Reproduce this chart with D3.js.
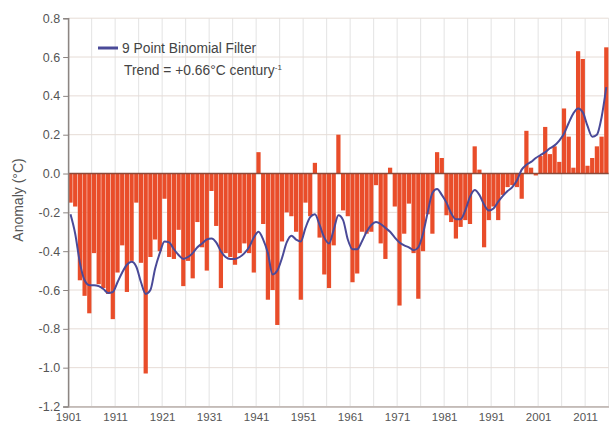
<!DOCTYPE html>
<html>
<head>
<meta charset="utf-8">
<script src="https://cdn.jsdelivr.net/npm/d3@7"></script>
<style>
  html, body { margin: 0; padding: 0; background: #fff; }
  svg { display: block; font-family: "Liberation Sans", Arial, sans-serif; }
</style>
</head>
<body>
<svg id="chart" width="609" height="423"></svg>
<script>
// Annual mean temperature anomaly, 1901–2015 (°C)
const years = d3.range(1901, 2016);

const anomaly = [
  -0.15, -0.17, -0.55, -0.63, -0.72, -0.41, -0.57, -0.59, -0.62, -0.75,
  -0.51, -0.37, -0.61, -0.45, -0.15, -0.46, -1.03, -0.43, -0.34, -0.40,
  -0.13, -0.43, -0.44, -0.29, -0.58, -0.45, -0.54, -0.25, -0.38, -0.50,
  -0.09, -0.27, -0.59, -0.41, -0.43, -0.47, -0.41, -0.36, -0.41, -0.51,
   0.11, -0.26, -0.65, -0.60, -0.78, -0.35, -0.20, -0.22, -0.30, -0.65,
  -0.15, -0.22, 0.055, -0.33, -0.52, -0.59, -0.37, 0.20, -0.19, -0.22,
  -0.56, -0.515, -0.30, -0.31, -0.30, -0.06, -0.36, -0.44, 0.03, -0.17,
  -0.68, -0.31, -0.155, -0.41, -0.645, -0.40, -0.21, -0.31, 0.11, 0.08,
  -0.215, -0.25, -0.335, -0.275, -0.24, -0.26, 0.14, 0.02, -0.38, -0.24,
  -0.17, -0.24, -0.11, -0.07, -0.06, -0.07, -0.13, 0.22, 0.03, -0.01,
   0.09, 0.24, 0.10, 0.14, 0.06, 0.335, 0.19, 0.03, 0.63, 0.59,
   0.04, 0.08, 0.14, 0.19, 0.65
];

// 9-point binomial filtered series
const filtered = [
  -0.21, -0.31, -0.46, -0.55, -0.575, -0.575, -0.58, -0.595, -0.615, -0.61,
  -0.56, -0.51, -0.47, -0.455, -0.48, -0.56, -0.62, -0.60, -0.49, -0.41,
  -0.35, -0.355, -0.39, -0.42, -0.44, -0.43, -0.41, -0.38, -0.36, -0.34,
  -0.335, -0.355, -0.40, -0.43, -0.44, -0.44, -0.43, -0.41, -0.38, -0.33,
  -0.30, -0.34, -0.41, -0.52, -0.50, -0.435, -0.355, -0.32, -0.34, -0.35,
  -0.28, -0.225, -0.21, -0.265, -0.33, -0.36, -0.29, -0.215, -0.24, -0.34,
  -0.39, -0.39, -0.35, -0.30, -0.265, -0.25, -0.26, -0.28, -0.30, -0.33,
  -0.355, -0.37, -0.38, -0.395, -0.38, -0.31, -0.20, -0.10, -0.08, -0.11,
  -0.15, -0.205, -0.235, -0.235, -0.19, -0.12, -0.085, -0.11, -0.16, -0.19,
  -0.18, -0.145, -0.115, -0.09, -0.07, -0.035, 0.02, 0.045, 0.06, 0.08,
   0.095, 0.11, 0.13, 0.145, 0.17, 0.205, 0.26, 0.31, 0.335, 0.315,
   0.245, 0.19, 0.20, 0.29, 0.445
];

const yTickValues = [0.8, 0.6, 0.4, 0.2, 0.0, -0.2, -0.4, -0.6, -0.8, -1.0, -1.2];
const xTickYears = [1901, 1911, 1921, 1931, 1941, 1951, 1961, 1971, 1981, 1991, 2001, 2011];
const gridYears = d3.range(1901, 2017, 5);

const legendLabel = "9 Point Binomial Filter";
const trendLabel = "Trend = +0.66°C century";
const trendExponent = "-1";
const yTitle = "Anomaly (°C)";

const svg = d3.select("#chart");
const plot = { left: 68.15, right: 608.65, top: 18.2, bottom: 406.5 };

const xLin = d3.scaleLinear().domain([1901, 2016]).range([plot.left, plot.right]);
const xBand = d3.scaleBand().domain(years).range([plot.left, plot.right])
  .paddingInner(0.1).paddingOuter(0.05);
const y = d3.scaleLinear().domain([-1.2, 0.8]).range([plot.bottom, plot.top]);

// grid
const grid = svg.append("g");
grid.selectAll("line.v").data(gridYears).join("line")
  .attr("class", "v")
  .attr("x1", d => xLin(d)).attr("x2", d => xLin(d))
  .attr("y1", plot.top).attr("y2", plot.bottom)
  .attr("stroke", "#e4e4e4").attr("stroke-width", 1);
grid.selectAll("line.h").data(yTickValues).join("line")
  .attr("class", "h")
  .attr("x1", plot.left).attr("x2", plot.right)
  .attr("y1", d => y(d)).attr("y2", d => y(d))
  .attr("stroke", "#e6dcd6").attr("stroke-width", 1);

// bars
const data = years.map((yr, i) => ({ year: yr, value: anomaly[i], smooth: filtered[i] }));
svg.append("g").selectAll("rect").data(data).join("rect")
  .attr("x", d => xBand(d.year))
  .attr("width", xBand.bandwidth())
  .attr("y", d => y(Math.max(0, d.value)))
  .attr("height", d => Math.abs(y(d.value) - y(0)))
  .attr("fill", "#e94d2a");

// zero line
svg.append("line")
  .attr("x1", plot.left).attr("x2", plot.right)
  .attr("y1", y(0)).attr("y2", y(0))
  .attr("stroke", "#8a4a3a").attr("stroke-width", 1.5);

// filtered curve
const line = d3.line()
  .x(d => xBand(d.year) + xBand.bandwidth() / 2)
  .y(d => y(d.smooth))
  .curve(d3.curveMonotoneX);
svg.append("path").datum(data)
  .attr("d", line)
  .attr("fill", "none")
  .attr("stroke", "#4a4a98")
  .attr("stroke-width", 2);

// y axis
const yAxis = svg.append("g")
  .attr("transform", `translate(${plot.left},0)`)
  .call(d3.axisLeft(y).tickValues(yTickValues).tickSize(5).tickPadding(3)
    .tickFormat(d => d.toFixed(1)));
yAxis.select(".domain").attr("stroke", "#8c8582").attr("stroke-width", 1.5);
yAxis.selectAll(".tick line").attr("stroke", "#8c8582");
yAxis.selectAll("text").attr("fill", "#555").attr("font-size", 12.5)
  .attr("font-family", "'Liberation Sans', Arial, sans-serif");

// x axis
const xAxis = svg.append("g")
  .attr("transform", `translate(0,${plot.bottom})`)
  .call(d3.axisBottom(xLin).tickValues(xTickYears).tickSize(0).tickPadding(6)
    .tickFormat(d3.format("d")));
xAxis.select(".domain").attr("stroke", "#b8b0ac").attr("stroke-width", 1.5);
xAxis.selectAll("text").attr("fill", "#555").attr("font-size", 11.5)
  .attr("font-family", "'Liberation Sans', Arial, sans-serif");

// y title
svg.append("text")
  .attr("transform", "translate(23,200) rotate(-90)")
  .attr("text-anchor", "middle")
  .attr("fill", "#555").attr("font-size", 14)
  .text(yTitle);

// legend
svg.append("line")
  .attr("x1", 98).attr("x2", 118).attr("y1", 48).attr("y2", 48)
  .attr("stroke", "#4a4a98").attr("stroke-width", 3);
svg.append("text")
  .attr("x", 122).attr("y", 53)
  .attr("fill", "#444").attr("font-size", 13.8)
  .text(legendLabel);
const trend = svg.append("text")
  .attr("x", 124).attr("y", 75)
  .attr("fill", "#444").attr("font-size", 13.8)
  .text(trendLabel);
trend.append("tspan").attr("dy", -5).attr("font-size", 8).text(trendExponent);
</script>
</body>
</html>
